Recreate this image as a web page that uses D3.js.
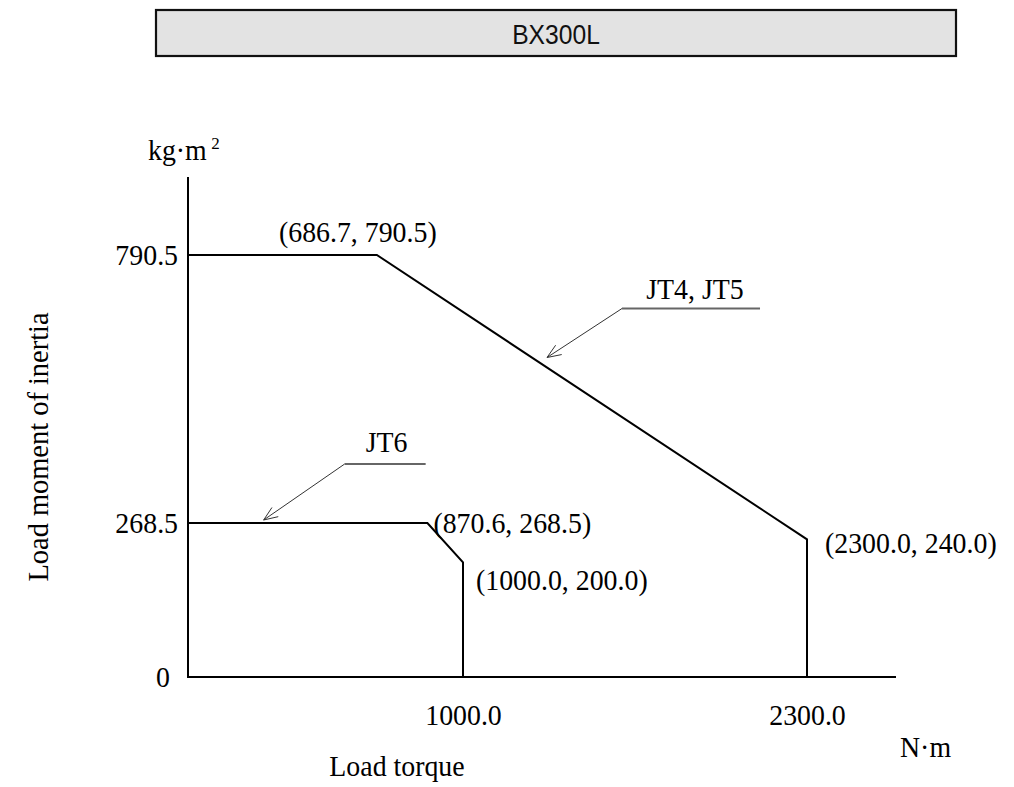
<!DOCTYPE html>
<html>
<head>
<meta charset="utf-8">
<script src="https://cdn.jsdelivr.net/npm/d3@7"></script>
<style>
  html, body { margin: 0; padding: 0; background: #ffffff; }
  svg { display: block; }
</style>
</head>
<body>
<svg id="chart" width="1014" height="787"></svg>
<script>
// ---------------- data ----------------
const chartTitle = "BX300L";
const xTickValues = [1000, 2300];
const xTickLabels = ["1000.0", "2300.0"];
const yTickValues = [0, 268.5, 790.5];
const yTickLabels = ["0", "268.5", "790.5"];
const seriesNames = ["JT4, JT5", "JT6"];
const jt45Torque  = [0, 686.7, 2300, 2300];
const jt45Inertia = [790.5, 790.5, 240, 0];
const jt6Torque   = [0, 870.6, 1000, 1000];
const jt6Inertia  = [268.5, 268.5, 200, 0];
const cornerTorque  = [686.7, 870.6, 1000, 2300];
const cornerInertia = [790.5, 268.5, 200, 240];
const cornerLabels  = ["(686.7, 790.5)", "(870.6, 268.5)", "(1000.0, 200.0)", "(2300.0, 240.0)"];
const xUnit = "N·m", yUnit = "kg·m", yUnitSup = "2", xTitle = "Load torque", yTitle = "Load moment of inertia";

// ---------------- layout ----------------
const svg = d3.select("#chart");
const serif = "'Liberation Serif', 'Times New Roman', serif";
const FS = 29;
const SQUEEZE = 0.96;

// schematic (broken) axes: each tick value sits at its own position
const x = d3.scaleLinear().domain([0].concat(xTickValues)).range([188, 463, 807]);
const y = d3.scaleLinear().domain(yTickValues).range([677, 523, 255]);

function condense(sel, f) {
  sel.each(function () {
    const len = this.getComputedTextLength();
    d3.select(this).attr("textLength", len * f).attr("lengthAdjust", "spacingAndGlyphs");
  });
  return sel;
}
function serifText(sel) {
  return sel.style("font-family", serif).style("font-size", FS + "px").attr("fill", "#000");
}

// title box
svg.append("rect").attr("x", 156).attr("y", 10).attr("width", 800).attr("height", 46)
  .attr("fill", "#e3e3e3").attr("stroke", "#111").attr("stroke-width", 2.2);
svg.append("text").attr("x", 556).attr("y", 34).attr("text-anchor", "middle")
  .attr("dominant-baseline", "central")
  .style("font-family", "'Liberation Sans', Arial, sans-serif").style("font-size", "28px")
  .attr("fill", "#111").text(chartTitle)
  .call(condense, 0.88);

// axis lines
svg.append("line").attr("x1", x(0)).attr("x2", x(0)).attr("y1", 177).attr("y2", y(0) + 1)
  .attr("stroke", "#000").attr("stroke-width", 2);
svg.append("line").attr("x1", x(0) - 1).attr("x2", 896).attr("y1", y(0)).attr("y2", y(0))
  .attr("stroke", "#000").attr("stroke-width", 2);

// axes via d3 (no tick marks, labels only)
const xAxis = svg.append("g").attr("transform", `translate(0,${y(0)})`)
  .call(d3.axisBottom(x).tickValues(xTickValues).tickSize(0).tickPadding(27)
    .tickFormat((d, i) => xTickLabels[i]));
const yAxis = svg.append("g").attr("transform", `translate(${x(0)},0)`)
  .call(d3.axisLeft(y).tickValues(yTickValues).tickSize(0).tickPadding(10)
    .tickFormat((d, i) => yTickLabels[i]));
[xAxis, yAxis].forEach(g => {
  g.select(".domain").remove();
  g.selectAll("text").attr("font-size", null).attr("font-family", null)
    .call(serifText).call(condense, SQUEEZE);
});
yAxis.selectAll(".tick text").filter(d => d === 0).attr("dx", -8);

// units
const ku = svg.append("text").attr("x", 148).attr("y", 160).call(serifText).text(yUnit)
  .call(condense, SQUEEZE);
const kuBox = ku.node().getBBox();
svg.append("text").attr("x", kuBox.x + kuBox.width + 4).attr("y", 149)
  .style("font-family", serif).style("font-size", "17px").text(yUnitSup);
svg.append("text").attr("x", 900).attr("y", 757).call(serifText).text(xUnit).call(condense, SQUEEZE);

// axis titles
svg.append("text").attr("x", 397).attr("y", 776).attr("text-anchor", "middle")
  .call(serifText).text(xTitle).call(condense, SQUEEZE);
svg.append("text").attr("transform", "translate(48,447) rotate(-90)").attr("text-anchor", "middle")
  .call(serifText).text(yTitle).call(condense, 0.98);

// series lines
const line = d3.line().x(d => x(d[0])).y(d => y(d[1]));
const series = [d3.zip(jt45Torque, jt45Inertia), d3.zip(jt6Torque, jt6Inertia)];
svg.selectAll("path.series").data(series).join("path").attr("class", "series")
  .attr("d", line).attr("fill", "none").attr("stroke", "#000").attr("stroke-width", 2)
  .attr("stroke-linejoin", "miter");

// corner labels
const labelOffsets = [
  { dx: -19, dy: -13, anchor: "middle" },
  { dx: 6, dy: 10, anchor: "start" },
  { dx: 13, dy: 28, anchor: "start" },
  { dx: 18, dy: 14, anchor: "start" }
];
svg.selectAll("text.corner").data(cornerLabels).join("text").attr("class", "corner")
  .attr("x", (d, i) => x(cornerTorque[i]) + labelOffsets[i].dx)
  .attr("y", (d, i) => y(cornerInertia[i]) + labelOffsets[i].dy)
  .attr("text-anchor", (d, i) => labelOffsets[i].anchor)
  .call(serifText).text(d => d).call(condense, SQUEEZE);

// leader annotations
function pointOn(seg, f) {
  const a = seg[0], b = seg[1];
  return [x(a[0] + (b[0] - a[0]) * f), y(a[1] + (b[1] - a[1]) * f)];
}
const annos = [
  { tip: pointOn([series[0][1], series[0][2]], 0.391), tipShift: [0, -8], knee: [75, -49], underline: 138, name: seriesNames[0], textDx: 73, textDy: -10 },
  { tip: pointOn([series[1][0], series[1][1]], 0.316), tipShift: [0, -3], knee: [81, -56], underline: 81, name: seriesNames[1], textDx: 42, textDy: -12 }
];
annos.forEach(a => {
  const tx = a.tip[0] + a.tipShift[0], ty = a.tip[1] + a.tipShift[1];
  const kx = tx + a.knee[0], ky = ty + a.knee[1];
  svg.append("line").attr("x1", kx).attr("y1", ky).attr("x2", tx).attr("y2", ty)
    .attr("stroke", "#333").attr("stroke-width", 1);
  const ang = Math.atan2(ky - ty, kx - tx);
  const L = 15, spread = 0.38;
  const p1 = [tx + L * Math.cos(ang + spread), ty + L * Math.sin(ang + spread)];
  const p2 = [tx + L * Math.cos(ang - spread), ty + L * Math.sin(ang - spread)];
  svg.append("path").attr("d", `M${p1}L${tx},${ty}L${p2}`).attr("fill", "none")
    .attr("stroke", "#333").attr("stroke-width", 1);
  svg.append("line").attr("x1", kx).attr("y1", ky).attr("x2", kx + a.underline).attr("y2", ky)
    .attr("stroke", "#666").attr("stroke-width", 1.8);
  svg.append("text").attr("x", kx + a.textDx).attr("y", ky + a.textDy).attr("text-anchor", "middle")
    .call(serifText).text(a.name).call(condense, SQUEEZE);
});
</script>
</body>
</html>
